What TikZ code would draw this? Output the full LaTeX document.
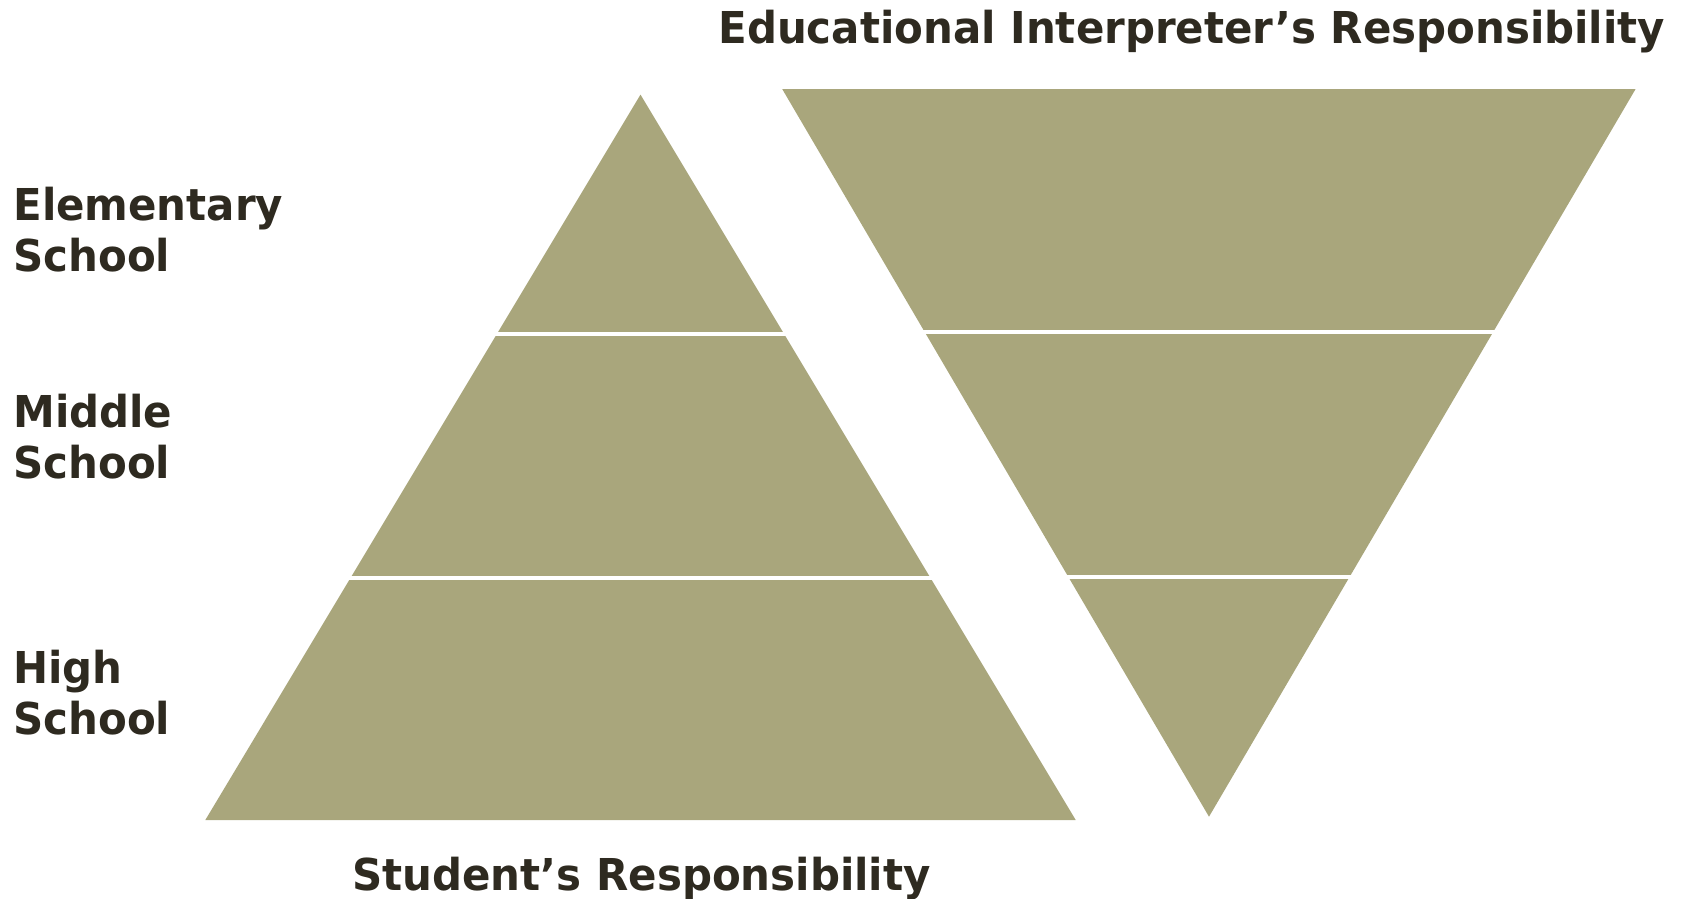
\documentclass[tikz,border=0pt]{standalone}
\usepackage{fontspec}
\setmainfont{DejaVu Sans}[FakeStretch=0.955]
\definecolor{khaki}{RGB}{169,166,124}
\definecolor{ink}{RGB}{46,42,32}
\begin{document}
\begin{tikzpicture}[x=0.02cm, y=-0.02cm,
    band/.style={fill=khaki, draw=none},
    cut/.style={draw=white, line width=4.5*0.02cm},
    lbl/.style={anchor=base west, inner sep=0, align=left, text=ink, font=\fontsize{25}{28.6}\selectfont\bfseries}]
\useasboundingbox (0,0) rectangle (1685,899);
% student triangle
\fill[band] (640.5,94.6)--(1075.7,820)--(205.3,820)--cycle;
\draw[cut] (480,334)--(800,334);
\draw[cut] (330,578)--(950,578);
% interpreter triangle
\fill[band] (782.3,89.2)--(1635.5,89.2)--(1209,816.7)--cycle;
\draw[cut] (900,332)--(1520,332);
\draw[cut] (1040,577)--(1380,577);
% labels
\node[lbl] (elem) at (13,271) {Elementary\\School};
\node[lbl] (mid) at (13,478) {Middle\\School};
\node[lbl] (high) at (13,734) {High\\School};
\node[lbl] (stud) at (352,890) {Student’s Responsibility};
\node[lbl] (interp) at (718,43) {Educational Interpreter’s Responsibility};
\end{tikzpicture}
\end{document}
